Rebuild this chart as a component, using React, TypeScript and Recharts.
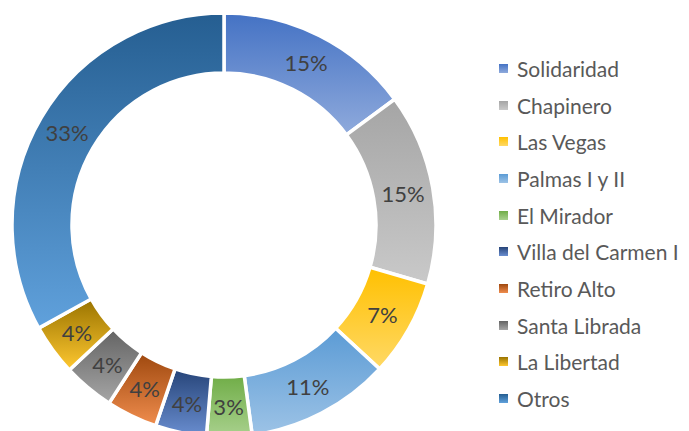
import React from 'react';
import { PieChart, Pie, Cell, Legend } from 'recharts';

const barrios = ['Solidaridad', 'Chapinero', 'Las Vegas', 'Palmas I y II', 'El Mirador', 'Villa del Carmen I', 'Retiro Alto', 'Santa Librada', 'La Libertad', 'Otros'];
// shares (percent)
const porcentajes = [14.9, 14.6, 7.4, 11.0, 3.45, 3.9, 3.9, 3.9, 3.9, 33.1];

// gradient top / bottom per slice (Excel-like)
const topColors = ['#4472C4', '#A5A5A5', '#FFC000', '#5B9BD5', '#70AD47', '#264478', '#9E480E', '#636363', '#997300', '#255E91'];
const bottomColors = ['#8FAADC', '#C9C9C9', '#FFD966', '#9DC3E6', '#A9D18E', '#6A8ED0', '#F08D4E', '#A6A6A6', '#FFC830', '#60A1DC'];

const data = barrios.map((name, i) => ({ name, value: porcentajes[i] }));

const RADIAN = Math.PI / 180;

function renderLabel(props: any) {
  const { cx, cy, midAngle, innerRadius, outerRadius, percent } = props;
  const r = (innerRadius + outerRadius) / 2;
  const x = cx + r * Math.cos(-midAngle * RADIAN);
  const y = cy + r * Math.sin(-midAngle * RADIAN);
  return (
    <text x={x} y={y} fill="#404040" fontSize={22} textAnchor="middle" dominantBaseline="central" fontFamily="Lato, sans-serif">
      {Math.round(percent * 100)}%
    </text>
  );
}

function renderLegend() {
  return (
    <div style={{ fontFamily: 'Lato, sans-serif', fontSize: 21, color: '#595959' }}>
      {barrios.map((name, i) => (
        <div key={name} style={{ display: 'flex', alignItems: 'center', height: 36.7, whiteSpace: 'nowrap' }}>
          <span
            style={{
              width: 9,
              height: 9,
              marginRight: 9,
              flex: 'none',
              background: `linear-gradient(${topColors[i]}, ${bottomColors[i]})`,
              display: 'inline-block',
            }}
          />
          <span>{name}</span>
        </div>
      ))}
    </div>
  );
}

export default function App() {
  return (
    <div style={{ position: 'absolute', left: 0, top: 0, width: 689, height: 431, background: '#fff', overflow: 'hidden' }}>
      <PieChart width={689} height={431} margin={{ top: 0, right: 0, bottom: 0, left: 0 }}>
        <defs>
          {barrios.map((name, i) => (
            <linearGradient key={name} id={`grad${i}`} x1="0" y1="0" x2="0" y2="1">
              <stop offset="0%" stopColor={topColors[i]} />
              <stop offset="100%" stopColor={bottomColors[i]} />
            </linearGradient>
          ))}
        </defs>
        <Pie
          data={data}
          dataKey="value"
          nameKey="name"
          cx={224}
          cy={225}
          innerRadius={152}
          outerRadius={212}
          startAngle={90}
          endAngle={-270}
          stroke="#fff"
          strokeWidth={3.5}
          label={renderLabel}
          labelLine={false}
          isAnimationActive={false}
        >
          {data.map((d, i) => (
            <Cell key={d.name} fill={`url(#grad${i})`} />
          ))}
        </Pie>
        <Legend
          layout="vertical"
          align="right"
          verticalAlign="top"
          content={renderLegend}
          wrapperStyle={{ left: 499, top: 50, width: 190 }}
        />
      </PieChart>
    </div>
  );
}
